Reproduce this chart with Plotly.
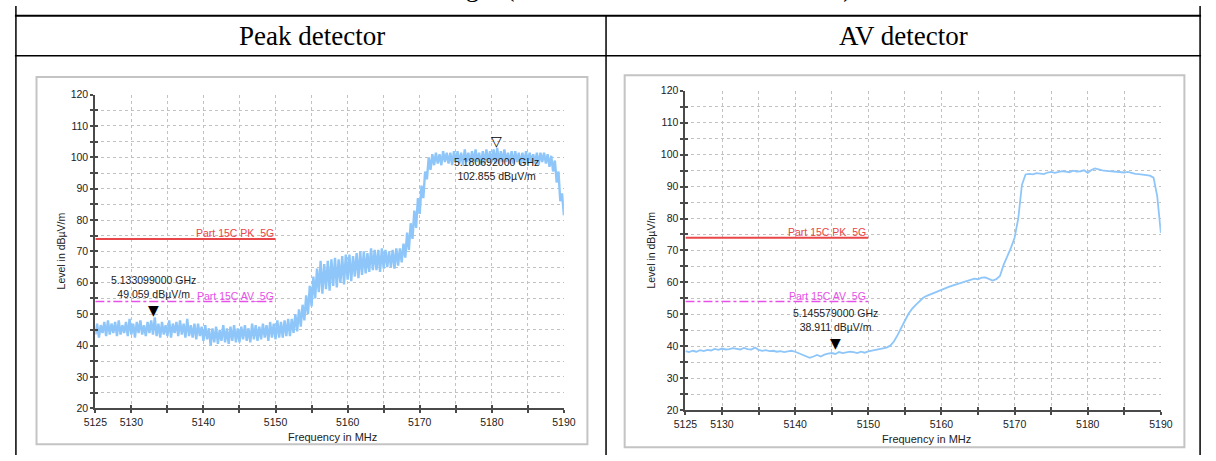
import plotly.graph_objects as go

# ---------------- data ----------------
# Peak detector trace, 5125..5190 MHz in 0.25 MHz steps
peak_level = [
    43.5, 47.0, 42.5, 46.5,   # 5125
    44.0, 47.5, 43.0, 48.0,   # 5126
    43.5, 47.0, 44.0, 47.5,   # 5127
    43.0, 48.0, 43.5, 46.5,   # 5128
    44.0, 47.5, 43.0, 48.5,   # 5129
    43.5, 47.0, 42.5, 47.5,   # 5130
    44.0, 48.0, 43.5, 46.5,   # 5131
    43.0, 47.5, 44.0, 48.0,   # 5132
    43.5, 49.0, 43.0, 47.0,   # 5133
    42.5, 47.5, 43.5, 46.5,   # 5134
    43.0, 48.0, 42.5, 47.0,   # 5135
    44.0, 47.5, 43.0, 48.0,   # 5136
    43.5, 47.0, 42.5, 48.5,   # 5137
    43.0, 46.5, 42.5, 47.0,   # 5138
    42.0, 47.0, 43.0, 46.0,   # 5139
    41.5, 46.5, 42.0, 45.5,   # 5140
    40.0, 45.5, 41.0, 46.0,   # 5141
    40.5, 45.0, 41.5, 46.5,   # 5142
    41.0, 45.5, 40.5, 46.0,   # 5143
    41.5, 46.5, 41.0, 45.5,   # 5144
    41.0, 46.0, 42.0, 46.5,   # 5145
    41.5, 45.5, 41.0, 47.0,   # 5146
    42.0, 46.5, 41.5, 46.0,   # 5147
    42.0, 47.0, 42.5, 46.5,   # 5148
    41.5, 47.5, 42.5, 47.0,   # 5149
    42.0, 48.0, 42.5, 47.5,   # 5150
    42.5, 48.0, 43.0, 48.5,   # 5151
    43.0, 48.5, 44.0, 50.0,   # 5152
    44.5, 51.5, 46.0, 53.0,   # 5153
    48.0, 56.0, 50.0, 59.0,   # 5154
    52.5, 62.0, 55.0, 64.5,   # 5155
    57.0, 67.0, 56.5, 66.0,   # 5156
    58.0, 67.0, 57.5, 67.5,   # 5157
    59.0, 68.0, 58.5, 67.5,   # 5158
    60.0, 68.5, 59.5, 69.0,   # 5159
    61.0, 69.0, 60.5, 68.5,   # 5160
    62.0, 69.5, 61.5, 70.0,   # 5161
    62.5, 70.0, 63.0, 69.5,   # 5162
    63.5, 71.0, 64.0, 70.5,   # 5163
    64.0, 70.5, 63.5, 71.0,   # 5164
    64.5, 70.5, 65.0, 70.0,   # 5165
    65.0, 70.5, 64.5, 71.0,   # 5166
    65.5, 71.0, 66.5, 72.5,   # 5167
    68.0, 76.0, 70.5, 79.0,   # 5168
    74.0, 83.0, 77.5, 87.0,   # 5169
    82.0, 91.0, 87.0, 95.5,   # 5170
    93.0, 100.0, 96.0, 101.0, # 5171
    97.5, 101.5, 98.0, 101.0, # 5172
    97.5, 102.0, 98.5, 101.5, # 5173
    98.0, 101.5, 97.5, 102.0, # 5174
    98.5, 102.0, 98.0, 101.5, # 5175
    97.5, 102.5, 98.5, 101.5, # 5176
    98.0, 102.0, 98.5, 102.5, # 5177
    98.5, 101.5, 97.5, 102.0, # 5178
    98.0, 102.5, 98.5, 102.0, # 5179
    98.5, 102.5, 98.0, 103.0, # 5180
    98.0, 102.0, 98.5, 102.5, # 5181
    98.5, 101.5, 98.0, 102.0, # 5182
    98.0, 102.0, 98.5, 101.5, # 5183
    97.5, 101.5, 98.0, 102.0, # 5184
    98.0, 101.5, 98.5, 101.0, # 5185
    98.0, 101.5, 97.5, 101.5, # 5186
    98.5, 101.5, 98.0, 101.0, # 5187
    97.0, 100.5, 95.5, 99.0,  # 5188
    92.0, 95.5, 86.0, 88.5,   # 5189
    81.5,                     # 5190
]
peak_freq = [5125 + 0.25 * i for i in range(len(peak_level))]

# AV detector trace, 5125..5190 MHz in 0.5 MHz steps
av_level = [
    38.5, 38.2,  # 5125
    38.6, 38.3,  # 5126
    38.8, 38.5,  # 5127
    38.9, 38.7,  # 5128
    39.2, 38.9,  # 5129
    39.3, 39.0,  # 5130
    39.1, 39.4,  # 5131
    39.2, 39.0,  # 5132
    39.5, 39.1,  # 5133
    39.0, 39.6,  # 5134
    38.9, 38.6,  # 5135
    38.8, 38.5,  # 5136
    38.6, 38.3,  # 5137
    38.5, 38.2,  # 5138
    38.4, 38.6,  # 5139
    38.3, 37.8,  # 5140
    37.2, 36.8,  # 5141
    36.4, 36.8,  # 5142
    37.3, 36.8,  # 5143
    37.4, 37.7,  # 5144
    37.9, 37.6,  # 5145
    38.2, 37.9,  # 5146
    38.1, 38.3,  # 5147
    38.2, 37.9,  # 5148
    38.3, 38.0,  # 5149
    38.4, 38.6,  # 5150
    38.8, 39.1,  # 5151
    39.3, 39.6,  # 5152
    40.2, 41.5,  # 5153
    43.5, 46.0,  # 5154
    48.0, 50.2,  # 5155
    51.8, 53.0,  # 5156
    54.0, 55.2,  # 5157
    55.8, 56.3,  # 5158
    56.8, 57.3,  # 5159
    57.7, 58.2,  # 5160
    58.6, 59.0,  # 5161
    59.4, 59.8,  # 5162
    60.0, 60.5,  # 5163
    60.8, 61.2,  # 5164
    61.0, 61.5,  # 5165
    61.6, 61.2,  # 5166
    60.6, 61.0,  # 5167
    62.0, 65.5,  # 5168
    68.0, 70.8,  # 5169
    74.0, 80.0,  # 5170
    90.5, 93.8,  # 5171
    94.0, 93.8,  # 5172
    94.2, 94.0,  # 5173
    93.9, 94.4,  # 5174
    94.6, 94.3,  # 5175
    94.5, 94.8,  # 5176
    94.7, 94.5,  # 5177
    95.0, 94.7,  # 5178
    94.8, 95.1,  # 5179
    94.3, 95.2,  # 5180
    95.7, 95.3,  # 5181
    95.1, 94.9,  # 5182
    94.8, 94.6,  # 5183
    94.7, 94.5,  # 5184
    94.4, 94.6,  # 5185
    94.2, 94.0,  # 5186
    93.9, 93.7,  # 5187
    93.6, 93.4,  # 5188
    92.8, 87.0,  # 5189
    75.5,        # 5190
]
av_freq = [5125 + 0.5 * i for i in range(len(av_level))]

# limit lines
limit_freq = [5125, 5150]
pk_limit = [74, 74]
av_limit = [54, 54]
pk_limit_name = "Part 15C PK_5G"
av_limit_name = "Part 15C AV_5G"

# markers  (freq MHz, level dBµV/m, label)
peak_markers = [
    (5133.099, 49.059, "5.133099000 GHz<br>49.059 dBµV/m", "filled"),
    (5180.692, 102.855, "5.180692000 GHz<br>102.855 dBµV/m", "open"),
]
av_markers = [
    (5145.579, 38.911, "5.145579000 GHz<br>38.911 dBµV/m", "filled"),
]

x_tickvals = [5125, 5130, 5135, 5140, 5145, 5150, 5155, 5160, 5165, 5170, 5175, 5180, 5185, 5190]
x_ticktext = ["5125", "5130", "", "5140", "", "5150", "", "5160", "", "5170", "", "5180", "", "5190"]
y_tickvals = [20, 25, 30, 35, 40, 45, 50, 55, 60, 65, 70, 75, 80, 85, 90, 95, 100, 105, 110, 115, 120]
y_ticktext = [str(v) if v % 10 == 0 else "" for v in y_tickvals]

headers = ["Peak detector", "AV detector"]
top_text = "Band Single (Lowest Channel, Antenna 1+2)"

# ---------------- layout helpers ----------------
W, H = 1216, 461
def px(x):
    return x / W
def py(y):
    return 1 - y / H

TRACE = "rgb(142,198,250)"
RED = "rgb(232,70,72)"
MAG = "rgb(230,80,230)"
AXC = "#4a4a4a"
SANS = "Liberation Sans, Arial, sans-serif"

fig = go.Figure()

panels = [
    dict(x="x", y="y", xo="x3", yo="y3", freq=peak_freq, lvl=peak_level, width=2.4,
         markers=peak_markers, dom_x=(85, 563), dom_y=(91, 413)),
    dict(x="x2", y="y2", xo="x4", yo="y4", freq=av_freq, lvl=av_level, width=1.8,
         markers=av_markers, dom_x=(687, 1172), dom_y=(87, 415)),
]

annotations = []
def ann(**kw):
    kw.setdefault("showarrow", False)
    kw.setdefault("xanchor", "center")
    kw.setdefault("yanchor", "middle")
    annotations.append(kw)

for p in panels:
    fig.add_trace(go.Scatter(x=p["freq"], y=p["lvl"], mode="lines", xaxis=p["x"], yaxis=p["y"],
                             line=dict(color=TRACE, width=p["width"]), showlegend=False,
                             hoverinfo="skip"))
    fig.add_trace(go.Scatter(x=limit_freq, y=pk_limit, mode="lines", xaxis=p["x"], yaxis=p["y"],
                             line=dict(color=RED, width=2), showlegend=False, hoverinfo="skip"))
    fig.add_trace(go.Scatter(x=limit_freq, y=av_limit, mode="lines", xaxis=p["x"], yaxis=p["y"],
                             line=dict(color=MAG, width=1.5, dash="dashdot"), showlegend=False,
                             hoverinfo="skip"))
    # helper trace for the overlay axes (crossing ticks)
    fig.add_trace(go.Scatter(x=[p["freq"][0]], y=[p["lvl"][0]], mode="markers", xaxis=p["xo"],
                             yaxis=p["yo"], marker=dict(opacity=0), showlegend=False,
                             hoverinfo="skip"))
    ann(x=limit_freq[1], y=pk_limit[0], xref=p["x"], yref=p["y"], text=pk_limit_name,
        xanchor="right", yanchor="bottom", yshift=-2,
        font=dict(family=SANS, size=10.5, color=RED))
    ann(x=limit_freq[1], y=av_limit[0], xref=p["x"], yref=p["y"], text=av_limit_name,
        xanchor="right", yanchor="bottom", yshift=-2,
        font=dict(family=SANS, size=10.5, color=MAG))
    for (mf, ml, lab, kind) in p["markers"]:
        ann(x=mf, y=ml, xref=p["x"], yref=p["y"], text="▼" if kind == "filled" else "▽",
            yanchor="bottom", yshift=-3,
            font=dict(family="DejaVu Sans", size=14, color="black"))
        if kind == "filled":
            ann(x=mf, y=ml, xref=p["x"], yref=p["y"], text=lab, yanchor="bottom", yshift=15,
                font=dict(family=SANS, size=10.5, color="#222"))
        else:
            ann(x=mf, y=ml, xref=p["x"], yref=p["y"], text=lab, yanchor="top", yshift=-6,
                font=dict(family=SANS, size=10.5, color="#222"))
    cx = (p["dom_x"][0] + p["dom_x"][1]) / 2
    cy = (p["dom_y"][0] + p["dom_y"][1]) / 2
    ann(x=px(p["dom_x"][0] - 35), y=py(cy), xref="paper", yref="paper",
        text="Level in dBµV/m", textangle=-90,
        font=dict(family=SANS, size=10.5, color="#222"))
    ann(x=px(cx + 3), y=py(p["dom_y"][1] + 30), xref="paper", yref="paper",
        text="Frequency in MHz", font=dict(family=SANS, size=11, color="#222"))

# headers
ann(x=px(306), y=py(31), xref="paper", yref="paper", text=headers[0],
    font=dict(family="Liberation Serif", size=27, color="black"))
ann(x=px(909), y=py(31), xref="paper", yref="paper", text=headers[1],
    font=dict(family="Liberation Serif", size=27, color="black"))
ann(x=px(609), y=py(-2), xref="paper", yref="paper", text=top_text, yanchor="bottom",
    font=dict(family="Liberation Serif", size=27, color="black"))

shapes = []
def line(x0, y0, x1, y1, color="black", width=1.5):
    shapes.append(dict(type="line", xref="paper", yref="paper", x0=px(x0), y0=py(y0),
                       x1=px(x1), y1=py(y1), line=dict(color=color, width=width)))
# table
line(3, 10, 1213, 10, width=2)
line(3, 51, 1213, 51, width=1.5)
line(4, 0, 4, 461)
line(1212, 0, 1212, 461)
line(606, 10, 606, 461)
# chart frames
def rect(x0, y0, x1, y1):
    shapes.append(dict(type="rect", xref="paper", yref="paper", x0=px(x0), y0=py(y0),
                       x1=px(x1), y1=py(y1), line=dict(color="#c4c4c4", width=2),
                       fillcolor="rgba(0,0,0,0)", layer="below"))
rect(25, 73, 587, 450)
rect(625, 71, 1196, 453)

def xaxis_main(dom, anchor):
    return dict(domain=[px(dom[0]), px(dom[1])], anchor=anchor, range=[5125, 5190],
                tickmode="array", tickvals=x_tickvals, ticktext=x_ticktext,
                ticks="outside", ticklen=3, tickwidth=1.5, tickcolor=AXC,
                showline=True, linecolor=AXC, linewidth=2, zeroline=False,
                showgrid=True, gridcolor="#c2c2c2", griddash="dot", gridwidth=1,
                tickfont=dict(family=SANS, size=10.5, color="#222"), fixedrange=True)

def yaxis_main(dom, anchor):
    return dict(domain=[py(dom[1]), py(dom[0])], anchor=anchor, range=[20, 120],
                tickmode="array", tickvals=y_tickvals, ticktext=y_ticktext,
                ticks="outside", ticklen=3, tickwidth=1.5, tickcolor=AXC,
                showline=True, linecolor=AXC, linewidth=2, zeroline=False,
                showgrid=True, gridcolor="#c2c2c2", griddash="dot", gridwidth=1,
                tickfont=dict(family=SANS, size=10.5, color="#222"), fixedrange=True)

def overlay_x(base, anchor):
    return dict(overlaying=base, anchor=anchor, range=[5125, 5190], tickmode="array",
                tickvals=x_tickvals, ticks="inside", ticklen=3, tickwidth=1.5, tickcolor=AXC,
                showticklabels=False, showgrid=False, zeroline=False, showline=False,
                side="bottom", fixedrange=True)

def overlay_y(base, anchor):
    return dict(overlaying=base, anchor=anchor, range=[20, 120], tickmode="array",
                tickvals=y_tickvals, ticks="inside", ticklen=3, tickwidth=1.5, tickcolor=AXC,
                showticklabels=False, showgrid=False, zeroline=False, showline=False,
                side="left", fixedrange=True)

fig.update_layout(
    width=W, height=H, margin=dict(l=0, r=0, t=0, b=0),
    paper_bgcolor="white", plot_bgcolor="white",
    xaxis=xaxis_main(panels[0]["dom_x"], "y"),
    yaxis=yaxis_main(panels[0]["dom_y"], "x"),
    xaxis2=xaxis_main(panels[1]["dom_x"], "y2"),
    yaxis2=yaxis_main(panels[1]["dom_y"], "x2"),
    xaxis3=overlay_x("x", "y3"),
    yaxis3=overlay_y("y", "x3"),
    xaxis4=overlay_x("x2", "y4"),
    yaxis4=overlay_y("y2", "x4"),
    annotations=annotations, shapes=shapes, showlegend=False,
)

fig.write_html("out.html", config={"displayModeBar": False},
               post_script="document.body.style.margin='0';document.body.style.overflow='hidden';")
